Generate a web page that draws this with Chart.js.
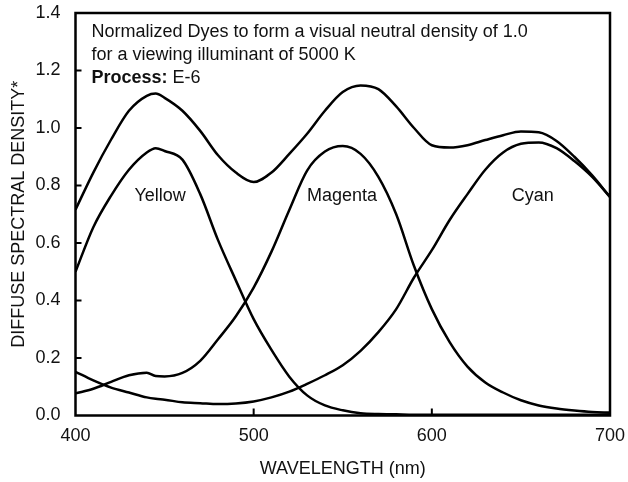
<!DOCTYPE html>
<html lang="en">
<head>
  <meta charset="UTF-8" />
  <title>E-6 Dye Spectral Density</title>
  <script src="https://cdn.jsdelivr.net/npm/chart.js"></script>
  <style>
    html, body { margin: 0; padding: 0; background: #fff; }
    #wrap { width: 628px; height: 482px; }
  </style>
</head>
<body>
  <div id="wrap"><canvas id="dyeChart" width="628" height="482"></canvas></div>
  <script>
    // wavelength grid (nm) and densities
    const wavelengths = [400, 410, 420, 430, 440, 445, 450, 460, 470, 480, 490, 500, 510, 520, 530, 540, 550,
                         560, 570, 580, 590, 600, 610, 620, 630, 640, 650, 660, 670, 680, 690, 700];
    const yellow  = [0.50, 0.655, 0.765, 0.855, 0.915, 0.93, 0.92, 0.89, 0.77, 0.61, 0.47, 0.335, 0.228, 0.135, 0.07, 0.035, 0.018,
                     0.008, 0.005, 0.004, 0.003, 0.003, 0.003, 0.003, 0.003, 0.003, 0.003, 0.003, 0.003, 0.003, 0.003, 0.004];
    const magenta = [0.077, 0.093, 0.117, 0.14, 0.149, 0.137, 0.136, 0.148, 0.19, 0.265, 0.345, 0.445, 0.57, 0.715, 0.852, 0.918, 0.937,
                     0.91, 0.83, 0.70, 0.52, 0.37, 0.255, 0.17, 0.115, 0.08, 0.053, 0.035, 0.024, 0.017, 0.012, 0.01];
    const cyan    = [0.152, 0.122, 0.097, 0.08, 0.063, 0.058, 0.055, 0.046, 0.043, 0.04, 0.042, 0.049, 0.063, 0.083, 0.11, 0.14, 0.175,
                     0.225, 0.29, 0.37, 0.48, 0.575, 0.68, 0.77, 0.855, 0.915, 0.945, 0.95, 0.93, 0.885, 0.83, 0.76];
    const neutral = [0.716, 0.845, 0.96, 1.06, 1.112, 1.12, 1.105, 1.06, 0.99, 0.905, 0.845, 0.812, 0.845, 0.91, 0.98, 1.06, 1.125,
                     1.148, 1.135, 1.075, 1.0, 0.94, 0.932, 0.94, 0.958, 0.975, 0.988, 0.985, 0.955, 0.9, 0.835, 0.76];
    const yTicks = [0, 0.2, 0.4, 0.6, 0.8, 1.0, 1.2, 1.4];
    const xTicks = [400, 500, 600, 700];

    const FONT = '"Liberation Sans", Arial, sans-serif';
    Chart.defaults.font.family = FONT;
    Chart.defaults.font.size = 18;
    Chart.defaults.color = '#111';

    const toPoints = vals => wavelengths.map((w, i) => ({ x: w, y: vals[i] }));
    const curve = (label, vals) => ({
      label, data: toPoints(vals), borderColor: '#000', borderWidth: 2.5,
      pointRadius: 0, fill: false, cubicInterpolationMode: 'monotone'
    });

    // frame, inward ticks and text notes
    const decor = {
      id: 'decor',
      afterDraw(chart) {
        const { ctx, chartArea: a, scales: { x, y } } = chart;
        ctx.save();
        ctx.strokeStyle = '#000';
        ctx.lineWidth = 2.5;
        ctx.strokeRect(a.left, a.top, a.right - a.left, a.bottom - a.top);
        ctx.lineWidth = 2;
        ctx.beginPath();
        yTicks.slice(1, -1).forEach(v => {
          const py = y.getPixelForValue(v);
          ctx.moveTo(a.left, py); ctx.lineTo(a.left + 6, py);
        });
        xTicks.slice(1, -1).forEach(v => {
          const px = x.getPixelForValue(v);
          ctx.moveTo(px, a.bottom); ctx.lineTo(px, a.bottom - 7);
        });
        ctx.stroke();

        ctx.fillStyle = '#111';
        ctx.textAlign = 'left';
        ctx.textBaseline = 'alphabetic';
        ctx.font = '18px ' + FONT;
        ctx.fillText('Normalized Dyes to form a visual neutral density of 1.0', a.left + 16, a.top + 24);
        ctx.fillText('for a viewing illuminant of 5000 K', a.left + 16, a.top + 47);
        ctx.font = 'bold 18px ' + FONT;
        ctx.fillText('Process:', a.left + 16, a.top + 70);
        const w = ctx.measureText('Process: ').width;
        ctx.font = '18px ' + FONT;
        ctx.fillText('E-6', a.left + 16 + w, a.top + 70);

        ctx.textAlign = 'center';
        ctx.textBaseline = 'middle';
        [['Yellow', 447.5], ['Magenta', 549.6], ['Cyan', 656.7]].forEach(([t, nm]) => {
          ctx.fillText(t, x.getPixelForValue(nm), y.getPixelForValue(0.762));
        });
        ctx.restore();
      }
    };

    new Chart(document.getElementById('dyeChart'), {
      type: 'line',
      data: {
        datasets: [
          curve('Neutral', neutral),
          curve('Yellow', yellow),
          curve('Magenta', magenta),
          curve('Cyan', cyan)
        ]
      },
      options: {
        responsive: false,
        animation: false,
        layout: { padding: { top: 13, right: 18, left: 0, bottom: 0 } },
        plugins: { legend: { display: false }, tooltip: { enabled: false } },
        scales: {
          x: {
            type: 'linear', min: 400, max: 700,
            afterBuildTicks: s => { s.ticks = xTicks.map(v => ({ value: v })); },
            afterFit: s => { s.height = 66.5; s.paddingLeft = 0; s.paddingRight = 0; },
            grid: { display: false, drawTicks: false },
            border: { display: false },
            ticks: { padding: 10, maxRotation: 0 },
            title: { display: true, text: 'WAVELENGTH (nm)', padding: { top: 0, bottom: 2 } }
          },
          y: {
            min: 0, max: 1.4,
            afterBuildTicks: s => { s.ticks = yTicks.map(v => ({ value: v })); },
            afterFit: s => { s.width = 75.5; s.paddingTop = 0; s.paddingBottom = 0; },
            grid: { display: false, drawTicks: false },
            border: { display: false },
            ticks: { padding: 15, callback: v => v.toFixed(1) },
            title: { display: true, text: 'DIFFUSE SPECTRAL DENSITY*', padding: { top: 8, bottom: 0 } }
          }
        }
      },
      plugins: [decor]
    });
  </script>
</body>
</html>
